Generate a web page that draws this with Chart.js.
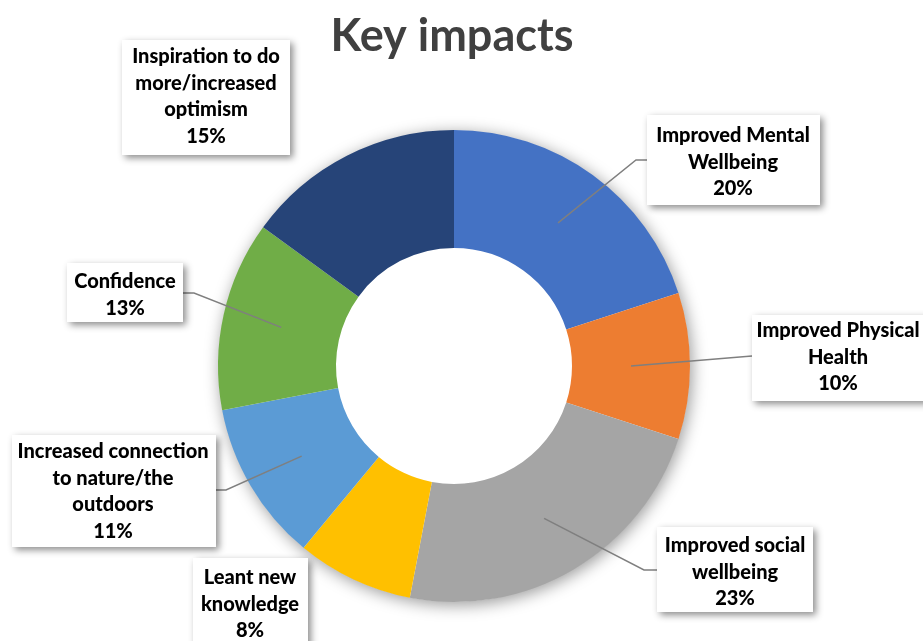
<!DOCTYPE html>
<html lang="en">
<head>
  <meta charset="UTF-8">
  <title>Key impacts</title>
  <script src="https://cdn.jsdelivr.net/npm/chart.js"></script>
  <style>
    html, body { margin: 0; padding: 0; background: #fff; }
    canvas { display: block; }
  </style>
</head>
<body>
  <canvas id="impactChart" width="923" height="641"></canvas>

  <script>
    const chartTitle = 'Key impacts';
    const categories = [
      ['Improved Mental', 'Wellbeing'],
      ['Improved Physical', 'Health'],
      ['Improved social', 'wellbeing'],
      ['Leant new', 'knowledge'],
      ['Increased connection', 'to nature/the', 'outdoors'],
      ['Confidence'],
      ['Inspiration to do', 'more/increased', 'optimism']
    ];
    const percentages = [20, 10, 23, 8, 11, 13, 15];
    const sliceColors = ['#4472C4', '#ED7D31', '#A5A5A5', '#FFC000', '#5B9BD5', '#70AD47', '#264478'];

    const FONT = '"Lato", "Liberation Sans", sans-serif';

    // callout boxes: box rect, text centre x, first line y, and optional elbow of the leader line
    const callouts = [
      { box: [647, 115, 173, 90],  cx: 733, y0: 136, elbow: [636, 160], end: [647, 160] },
      { box: [752, 315, 180, 86],  cx: 838, y0: 331, elbow: null,       end: [752, 356] },
      { box: [657, 527, 156, 85],  cx: 735, y0: 546, elbow: [644, 570], end: [657, 570] },
      { box: [193, 558, 115, 90],  cx: 250, y0: 578, elbow: null,       end: null },
      { box: [12, 435, 204, 112],  cx: 113, y0: 452, elbow: [226, 490], end: [216, 490] },
      { box: [67, 263, 116, 59],   cx: 125, y0: 282, elbow: [194, 293], end: [183, 293] },
      { box: [122, 40, 168, 115],  cx: 206, y0: 57,  elbow: null,       end: null }
    ];
    const lineStep = 26.5;

    // soft haze around the outer edge of the ring
    const ringShadow = {
      id: 'ringShadow',
      beforeDatasetsDraw(chart) {
        const arc = chart.getDatasetMeta(0).data[0];
        if (!arc) return;
        const { x, y, outerRadius } = arc.getProps(['x', 'y', 'outerRadius'], true);
        const ctx = chart.ctx;
        ctx.save();
        ctx.beginPath();
        ctx.rect(0, 0, chart.width, chart.height);
        ctx.arc(x, y, outerRadius - 0.5, 0, Math.PI * 2);
        ctx.clip('evenodd');
        ctx.shadowColor = 'rgba(0,0,0,0.4)';
        ctx.shadowBlur = 16;
        ctx.shadowOffsetX = 10000 + 2;
        ctx.shadowOffsetY = 3;
        ctx.beginPath();
        ctx.arc(x - 10000, y, outerRadius, 0, Math.PI * 2);
        ctx.fillStyle = '#000';
        ctx.fill();
        ctx.restore();
      }
    };

    // title, leader lines and white callout boxes
    const calloutLabels = {
      id: 'calloutLabels',
      afterDatasetsDraw(chart) {
        const ctx = chart.ctx;
        const meta = chart.getDatasetMeta(0);

        ctx.save();
        ctx.fillStyle = '#404040';
        ctx.font = 'bold 45px ' + FONT;
        ctx.textAlign = 'center';
        ctx.textBaseline = 'middle';
        ctx.fillText(chartTitle, 452, 36);
        ctx.restore();

        meta.data.forEach((arc, i) => {
          const c = callouts[i];
          if (!c.end) return;
          const p = arc.tooltipPosition(true);
          ctx.save();
          ctx.strokeStyle = '#7F7F7F';
          ctx.lineWidth = 1.5;
          ctx.beginPath();
          ctx.moveTo(p.x, p.y);
          if (c.elbow) ctx.lineTo(c.elbow[0], c.elbow[1]);
          ctx.lineTo(c.end[0], c.end[1]);
          ctx.stroke();
          ctx.restore();
        });

        meta.data.forEach((arc, i) => {
          const c = callouts[i];
          const [bx, by, bw, bh] = c.box;
          ctx.save();
          ctx.shadowColor = 'rgba(0,0,0,0.45)';
          ctx.shadowBlur = 7;
          ctx.shadowOffsetX = 3;
          ctx.shadowOffsetY = 3;
          ctx.fillStyle = '#fff';
          ctx.fillRect(bx, by, bw, bh);
          ctx.restore();

          const lines = categories[i].concat([percentages[i] + '%']);
          ctx.save();
          ctx.fillStyle = '#000';
          ctx.font = '900 20px ' + FONT;
          ctx.textAlign = 'center';
          ctx.textBaseline = 'middle';
          lines.forEach((t, k) => ctx.fillText(t, c.cx, c.y0 + k * lineStep));
          ctx.restore();
        });
      }
    };

    new Chart(document.getElementById('impactChart'), {
      type: 'doughnut',
      data: {
        labels: categories,
        datasets: [{
          data: percentages,
          backgroundColor: sliceColors,
          borderWidth: 0
        }]
      },
      options: {
        responsive: false,
        animation: false,
        cutout: '50%',
        layout: { padding: { left: 218, right: 233, top: 130, bottom: 39 } },
        plugins: {
          legend: { display: false },
          tooltip: { enabled: false },
          title: { display: false }
        }
      },
      plugins: [ringShadow, calloutLabels]
    });
  </script>
</body>
</html>
